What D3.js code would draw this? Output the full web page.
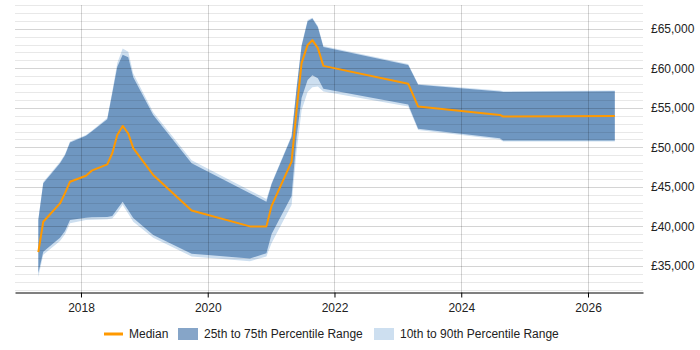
<!DOCTYPE html>
<html><head><meta charset="utf-8">
<script src="https://cdn.jsdelivr.net/npm/d3@7"></script>
<style>
html,body{margin:0;padding:0;background:#fff;}
text{font-family:"Liberation Sans",Arial,sans-serif;}
</style></head>
<body><svg id="c" width="700" height="350"></svg>
<script>
// decimal years
const dates = [2017.327,2017.405,2017.669,2017.748,2017.827,2018.079,2018.169,2018.415,2018.494,2018.573,
  2018.658,2018.746,2018.825,2019.140,2019.746,2020.666,2020.926,2021.008,2021.323,2021.402,
  2021.481,2021.576,2021.651,2021.738,2021.825,2023.163,2023.320,2024.609,2024.661,2026.423];
const p90 = [40900,45600,48150,49150,50750,51550,52100,53700,57100,60650,
  62500,62100,59350,54450,48350,44550,43450,45500,51500,57600,
  62950,66100,66400,65350,62800,60550,58000,57200,57100,57200];
const p75 = [40800,45450,48000,49000,50600,51450,52000,53550,56850,60200,
  61700,61400,58850,54100,48000,44200,43100,45350,51350,57450,
  62800,65950,66300,65200,62700,60400,57900,57050,57000,57100];
const median = [36750,40590,42900,44200,45650,46400,47050,47850,49250,51550,
  52700,51750,49900,46500,42000,40000,40000,42600,48200,54700,
  60650,62950,63550,62550,60300,58050,55150,54100,53900,53950];
const p25 = [34100,36800,38550,39400,40800,41100,41150,41200,41300,42200,
  43100,42050,41050,38900,36550,35950,36600,39050,43850,51300,
  56250,58500,59100,58750,57400,55400,52350,51150,50850,50850];
const p10 = [33600,36400,38150,39000,40400,40800,40850,40900,41000,41750,
  42700,41600,40600,38550,36200,35600,36200,37900,42700,49400,
  54700,57000,57600,57700,57050,55150,52200,51000,50750,50750];
const xTicks = [2018,2020,2022,2024,2026];
const yTicks = [35000,40000,45000,50000,55000,60000,65000];
const legendLabels = ["Median","25th to 75th Percentile Range","10th to 90th Percentile Range"];

const svg = d3.select("#c");
const L=15,R=643,T=5,B=292;
const x = d3.scaleLinear().domain([2016.959,2026.868]).range([L,R]);
const y = d3.scaleLinear().domain([31700,68000]).range([B,T]);
const rows = dates.map((d,i)=>({d,p90:p90[i],p75:p75[i],m:median[i],p25:p25[i],p10:p10[i]}));

const lightFill="#cddff0", darkFill="rgb(35,91,155)", darkOp=0.55, orange="#ff9900";

svg.append("path").datum(rows)
  .attr("d",d3.area().x(r=>x(r.d)).y0(r=>y(r.p10)).y1(r=>y(r.p90)))
  .attr("fill",lightFill);
svg.append("path").datum(rows)
  .attr("d",d3.area().x(r=>x(r.d)).y0(r=>y(r.p25)).y1(r=>y(r.p75)))
  .attr("fill",darkFill).attr("fill-opacity",darkOp);

// grid
const minor = d3.range(32000,68001,1000);
svg.append("g").selectAll("line").data(minor).join("line")
  .attr("x1",L).attr("x2",R).attr("y1",v=>Math.round(y(v))+0.5).attr("y2",v=>Math.round(y(v))+0.5)
  .attr("stroke","#000").attr("stroke-opacity",v=>v%5000===0?0.17:0.09);
svg.append("g").selectAll("line").data(xTicks).join("line")
  .attr("x1",v=>Math.round(x(v))+0.5).attr("x2",v=>Math.round(x(v))+0.5).attr("y1",T).attr("y2",B)
  .attr("stroke","#000").attr("stroke-opacity",0.17);

svg.append("path").datum(rows)
  .attr("d",d3.line().x(r=>x(r.d)).y(r=>y(r.m)))
  .attr("fill","none").attr("stroke",orange).attr("stroke-width",2).attr("stroke-linejoin","round");

// x axis
const xa = svg.append("g").attr("transform",`translate(0,${B+0.5})`)
  .call(d3.axisBottom(x).tickValues(xTicks).tickFormat(d3.format("d")).tickSize(5).tickSizeOuter(0));
xa.select(".domain").attr("stroke","#000");
xa.selectAll(".tick line").attr("stroke","#000");
xa.selectAll("text").attr("font-size",12).attr("fill","#222").attr("font-family","Liberation Sans, Arial, sans-serif").attr("dy","0.95em");

// y axis labels
const ya = svg.append("g").attr("transform",`translate(${R},0)`)
  .call(d3.axisRight(y).tickValues(yTicks).tickFormat(v=>"£"+d3.format(",")(v)).tickSize(0).tickPadding(8));
ya.select(".domain").remove();
ya.selectAll("text").attr("font-size",12).attr("fill","#222").attr("font-family","Liberation Sans, Arial, sans-serif");

// legend
const lg = svg.append("g");
const ly = 334;
lg.append("line").attr("x1",104).attr("x2",123).attr("y1",ly).attr("y2",ly).attr("stroke",orange).attr("stroke-width",3);
lg.append("text").attr("x",129).attr("y",ly).attr("dy","0.35em").attr("font-size",12).attr("fill","#222").text(legendLabels[0]);
lg.append("rect").attr("x",178).attr("y",ly-6).attr("width",20).attr("height",12).attr("fill",darkFill).attr("fill-opacity",darkOp);
lg.append("text").attr("x",204).attr("y",ly).attr("dy","0.35em").attr("font-size",12).attr("fill","#222").text(legendLabels[1]);
lg.append("rect").attr("x",374).attr("y",ly-6).attr("width",20).attr("height",12).attr("fill",lightFill);
lg.append("text").attr("x",400).attr("y",ly).attr("dy","0.35em").attr("font-size",12).attr("fill","#222").text(legendLabels[2]);
</script></body></html>
